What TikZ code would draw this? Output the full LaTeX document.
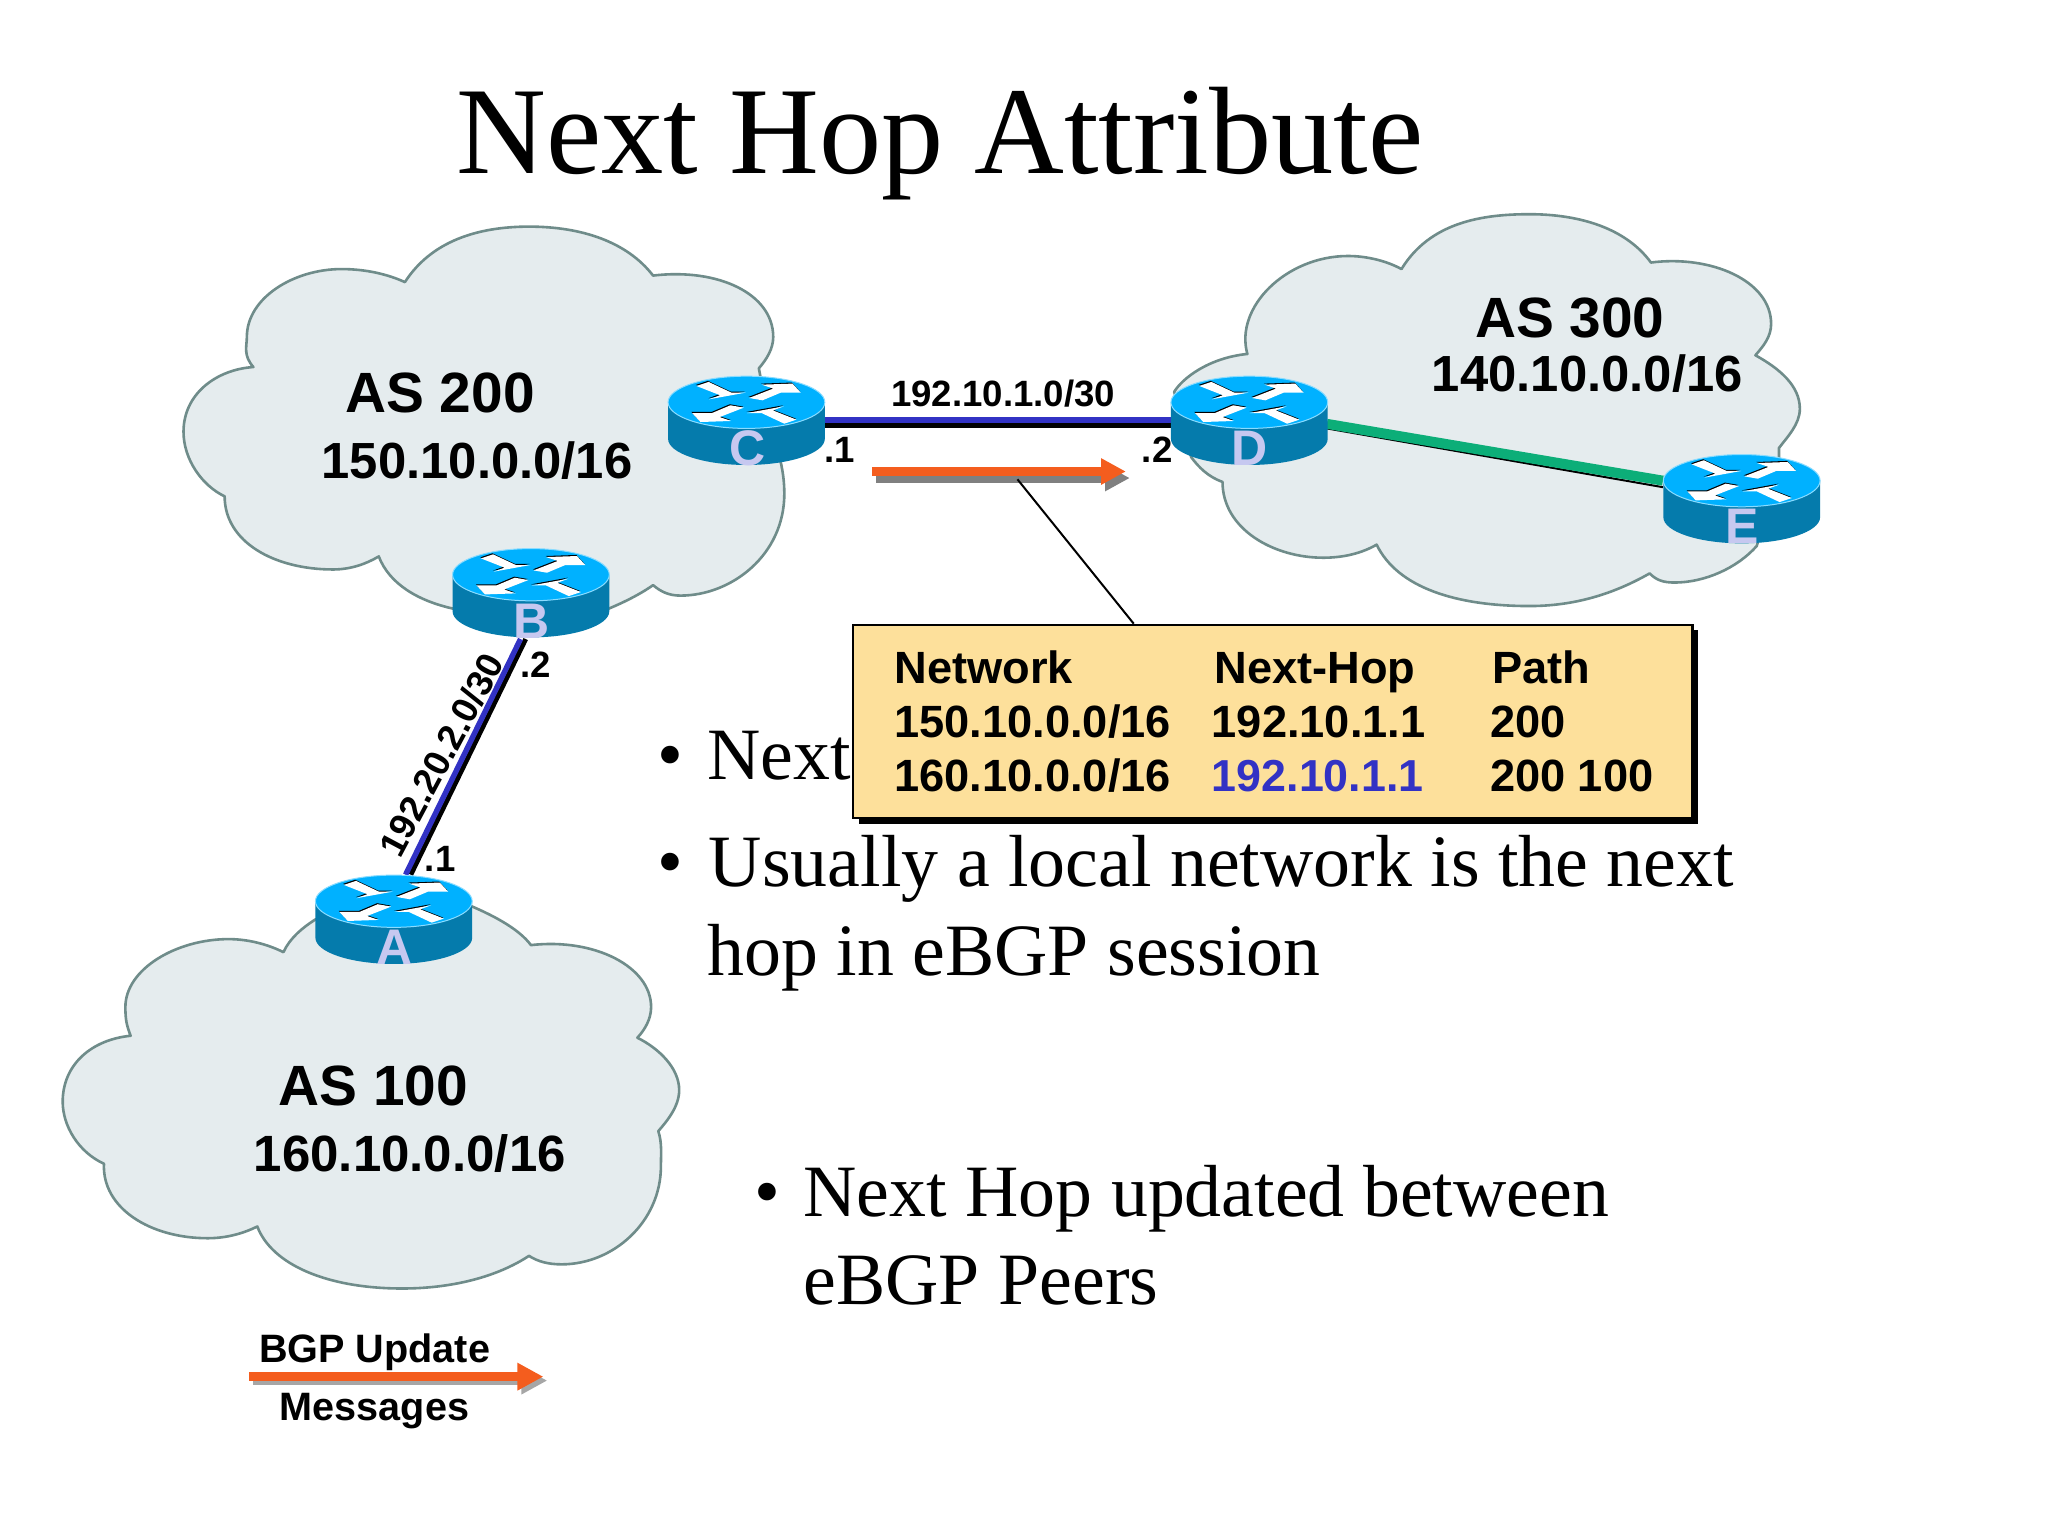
\documentclass[tikz,border=0pt]{standalone}
\usepackage{fontspec}
\setmainfont{Liberation Serif}
\newfontfamily\arialfont{Liberation Sans}
\usetikzlibrary{arrows.meta}
\definecolor{cloudfill}{HTML}{E5ECEE}
\definecolor{cloudline}{HTML}{6F8C8A}
\definecolor{rtop}{HTML}{00B1FF}
\definecolor{rside}{HTML}{057BAC}
\definecolor{rrim}{HTML}{8ADCFF}
\definecolor{rletter}{HTML}{C6C8F0}
\definecolor{linkblue}{HTML}{3232C4}
\definecolor{linkgreen}{HTML}{0CAE78}
\definecolor{updorange}{HTML}{F45D1E}
\definecolor{boxfill}{HTML}{FDE09B}
\newcommand{\sz}[1]{\fontsize{#1}{#1}\selectfont}
\newcommand{\inarrow}{(-38.3,-12.5) -- (-29,-15.6) -- (-11.5,-7.4) -- (-0.5,-7.4) -- (-28.6,-2.3) -- (-20.2,-5.4) -- cycle}
\newcommand{\outarrow}{(2,-3.3) -- (20.5,-10.5) -- (11.7,-13.5) -- (35.2,-14.3) -- (41.6,-7.4) -- (26.3,-7.4) -- (12.3,-1.5) -- cycle}
\tikzset{
  cloudshape/.style={fill=cloudfill,draw=cloudline,line width=1.3pt,line join=round},
  routernode/.style={rectangle,minimum width=78.4pt,minimum height=44.4pt,inner sep=0pt},
  rletterstyle/.style={inner sep=0pt,text=rletter,font=\arialfont\bfseries\sz{25}},
  lbl/.style={anchor=base west,inner sep=0pt,font=\arialfont\bfseries\sz{#1}},
  body/.style={anchor=base west,inner sep=0pt,font=\sz{36.9}},
  blueline/.style={draw=linkblue,line width=2.7pt},
  blackline/.style={draw=black,line width=2.4pt},
  pics/router/.style={code={
    \fill[rside] (-60,-14) -- (-60,14) .. controls (-60,25) and (-33,34) .. (0,34)
      .. controls (33,34) and (60,25) .. (60,14) -- (60,-14) -- cycle;
    \fill[rtop,draw=rrim,line width=0.5pt] (0,-14) ellipse [x radius=60,y radius=20];
    \begin{scope}[shift={(0,-14)}]
      \begin{scope}[shift={(-0.5,-0.8)}]
        \fill[black] \inarrow; \fill[black] \outarrow;
      \end{scope}
      \fill[white] \inarrow; \fill[white] \outarrow;
      \begin{scope}[shift={(0,0.8)},rotate=180]
        \begin{scope}[shift={(0.5,0.8)}]
          \fill[black] \inarrow; \fill[black] \outarrow;
        \end{scope}
        \fill[white] \inarrow; \fill[white] \outarrow;
      \end{scope}
    \end{scope}
  }},
}
\begin{document}
\begin{tikzpicture}[x=0.653pt,y=-0.653pt]
\useasboundingbox (0,0) rectangle (1568,1176);
\fill[white] (0,0) rectangle (1568,1176);

% clouds
\draw[cloudshape] (310,216) .. controls (330,185) and (365,173.5) .. (405,173.5)
  .. controls (445,173.5) and (480,185) .. (500,211)
  .. controls (550,205) and (592,225) .. (592,258)
  .. controls (592,267) and (587,275) .. (581,282)
  -- (590,330) .. controls (596,345) and (600.5,360) .. (600.5,378)
  .. controls (600.5,425) and (560,456) .. (521,456)
  .. controls (512,456) and (506,453) .. (500,448)
  .. controls (490,455) and (478,461) .. (466,466)
  -- (347,466) .. controls (320,460) and (298,447) .. (290,426)
  .. controls (280,432) and (268,436) .. (255,436)
  .. controls (210,436) and (172,415) .. (172,380)
  .. controls (155,372) and (140.5,352) .. (140.5,330.5)
  .. controls (140.5,302) and (165,283) .. (194,281)
  .. controls (186,272) and (189,265) .. (189,258)
  .. controls (189,228) and (225,206) .. (261.5,206)
  .. controls (280,206) and (297,210) .. (310,216) -- cycle;
\draw[cloudshape] (1073,206) .. controls (1095,170) and (1135,164) .. (1171,164)
  .. controls (1210,164) and (1245,175) .. (1264,201)
  .. controls (1310,195) and (1356,215) .. (1356,248)
  .. controls (1356,258) and (1350,265) .. (1344,272)
  .. controls (1362,282) and (1378,295) .. (1378,313)
  .. controls (1378,325) and (1368,335) .. (1362,343)
  -- (1362,360) -- (1345,418)
  .. controls (1330,435) and (1305,446) .. (1282,446)
  .. controls (1273,446) and (1268,444) .. (1263,439)
  .. controls (1235,455) and (1205,464) .. (1171,464)
  .. controls (1115,464) and (1070,450) .. (1054,417)
  .. controls (1040,425) and (1025,427) .. (1013,427)
  .. controls (975,427) and (936,405) .. (936,369)
  .. controls (925,365) and (918,358) .. (912,350)
  -- (899,300) .. controls (905,290) and (925,274) .. (955,271)
  .. controls (945,235) and (985,196) .. (1032,196)
  .. controls (1047,196) and (1062,200) .. (1073,206) -- cycle;
\draw[cloudshape] (361.4,694) .. controls (380,702) and (398,712) .. (406.5,723.6)
  .. controls (455,718) and (498.5,740) .. (498.5,771)
  .. controls (498.5,780) and (494,788) .. (488,794.5)
  .. controls (505,803) and (520,818) .. (520,834.6)
  .. controls (520,847) and (511,858) .. (504,866)
  .. controls (507,875) and (506,884) .. (506,893)
  .. controls (506,935) and (470,968) .. (430,968)
  .. controls (420,968) and (412,966) .. (405,961.5)
  .. controls (380,978) and (345,986.5) .. (308,986.5)
  .. controls (250,986.5) and (208,968) .. (197,939)
  .. controls (185,945) and (172,948) .. (159,948)
  .. controls (115,948) and (78,925) .. (79.6,891)
  .. controls (60,882) and (48,862) .. (48,843.5)
  .. controls (48,815) and (70,796) .. (100,793)
  .. controls (97,785) and (96,781) .. (96,771)
  .. controls (96,742) and (135,719) .. (175,719)
  .. controls (190,719) and (205,723) .. (217,729)
  .. controls (222,718) and (232,710) .. (241.4,704) -- cycle;

% routers (nodes first, so that links can refer to them)
\node[routernode] (A) at (301.5,704) {};
\node[routernode] (B) at (406.5,454) {};
\node[routernode] (C) at (571.5,322) {};
\node[routernode] (D) at (956.5,322) {};
\node[routernode] (E) at (1333.5,382) {};

% links
\draw[blackline] ([shift={(0,4)}]C.east) -- ([shift={(1,4)}]D.west);
\draw[blueline] ([shift={(0,-0.5)}]C.east) -- ([shift={(1,-0.5)}]D.west);
\draw[blackline] ([shift={(-4,1)}]B.south) -- ([shift={(13,0)}]A.north);
\draw[blueline] ([shift={(-8,1)}]B.south) -- ([shift={(9,0)}]A.north);
\draw[draw=black,line width=1pt] ([shift={(-1,6)}]D.east) -- ([shift={(0,-9)}]E.west);
\draw[draw=linkgreen,line width=5pt] ([shift={(-1,2.5)}]D.east) -- ([shift={(0,-14)}]E.west);

% router bodies and letters
\foreach \r in {A,B,C,D,E}{ \pic at (\r) {router}; }
\node[rletterstyle] (Al) at (302,725) {A};
\node[rletterstyle] (Bl) at (407,476) {B};
\node[rletterstyle] (Cl) at (572,343) {C};
\node[rletterstyle] (Dl) at (957,343) {D};
\node[rletterstyle] (El) at (1334,403) {E};

% cloud labels
\node[lbl=28.4] (as200) at (264,315.5) {AS 200};
\node[lbl=25.4] (net200) at (246,366) {150.10.0.0/16};
\node[lbl=28.4] (as300) at (1129,258.5) {AS 300};
\node[lbl=25.4] (net300) at (1096,299.5) {140.10.0.0/16};
\node[lbl=28.4] (as100) at (213,846.5) {AS 100};
\node[lbl=25.5] (net100) at (194,897) {160.10.0.0/16};

% link labels
\node[lbl=18.3] (cdnet) at (682,311) {192.10.1.0/30};
\node[lbl=18.3] (cone) at (631,354) {.1};
\node[lbl=18.3] (dtwo) at (874,354) {.2};
\node[lbl=18.3] (btwo) at (398,519) {.2};
\node[lbl=18.3] (aone) at (325,667) {.1};
\node[inner sep=0pt,rotate=62,font=\arialfont\bfseries\sz{18.3}] (abnet) at (338,578) {192.20.2.0/30};

% title
\node[anchor=base west,inner sep=0pt,font=\sz{62.2}] (title) at (349,133) {Next Hop Attribute};

% bullets
\node[body] (b1) at (503,596.5) {•};
\node[body] (t1) at (541.5,596.5) {Next};
\node[body] (b2) at (503,678.5) {•};
\node[body] (t2) at (542.5,678.5) {Usually a local network is the next};
\node[body] (t3) at (541.5,746.5) {hop in eBGP session};
\node[body] (b3) at (577,931) {•};
\node[body] (t4) at (615,931) {Next Hop updated between};
\node[body] (t5) at (615,998.5) {eBGP Peers};

% update arrow and table
\coordinate (us) at (668,361);
\coordinate (ue) at (862,361);
\coordinate (uc) at (779,367);
\draw[draw=gray,line width=4.6pt,-{Triangle[length=12.4pt,width=12.4pt]}] ([shift={(3,5)}]us) -- ([shift={(3,5)}]ue);
\draw[draw=updorange,line width=4.6pt,-{Triangle[length=12.4pt,width=12.4pt]}] (us) -- (ue);
\fill[black] (658,482) rectangle (1300,630.5);
\node[anchor=north west,rectangle,draw=black,line width=1.2pt,fill=boxfill,minimum width=419.9pt,minimum height=96.6pt,inner sep=0pt] (tbl) at (652,477.5) {};
\draw[black,line width=1pt] (uc) -- ([shift={(216,0)}]tbl.north west);
\node[lbl=22.6] (h1) at (684.5,523) {Network};
\node[lbl=22.6] (h2) at (929.5,523) {Next-Hop};
\node[lbl=22.6] (h3) at (1142.5,523) {Path};
\node[lbl=22.6] (r11) at (684.5,565) {150.10.0.0/16};
\node[lbl=22.6] (r12) at (927.5,565) {192.10.1.1};
\node[lbl=22.6] (r13) at (1140.5,565) {200};
\node[lbl=22.6] (r21) at (684.5,606) {160.10.0.0/16};
\node[lbl=22.4,text=linkblue] (r22) at (927.5,606) {192.10.1.1};
\node[lbl=22.6] (r23) at (1140.5,606) {200 100};

% legend
\coordinate (ls) at (191,1054);
\coordinate (le) at (416,1054);
\draw[draw=black!35,line width=4.3pt,-{Triangle[length=13pt,width=13pt]}] ([shift={(3,3)}]ls) -- ([shift={(3,3)}]le);
\draw[draw=updorange,line width=4.3pt,-{Triangle[length=13pt,width=13pt]}] (ls) -- (le);
\node[lbl=19.8] (lg1) at (198,1043.5) {BGP Update};
\node[lbl=19.8] (lg2) at (214,1087.5) {Messages};
\end{tikzpicture}
\end{document}
